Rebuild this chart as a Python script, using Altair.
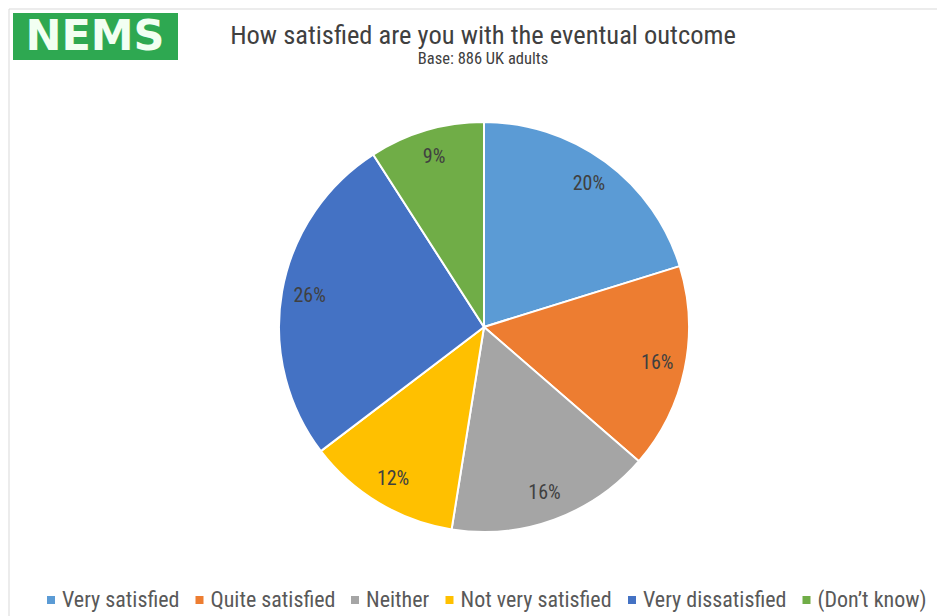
import altair as alt
import pandas as pd

categories = ["Very satisfied", "Quite satisfied", "Neither", "Not very satisfied",
              "Very dissatisfied", "(Don’t know)"]
values = [20, 16, 16, 12, 26, 9]
colors = ["#5B9BD5", "#ED7D31", "#A5A5A5", "#FFC000", "#4472C4", "#70AD47"]
labels = [f"{v}%" for v in values]

title_text = "How satisfied are you with the eventual outcome"
subtitle_text = "Base: 886 UK adults"
logo_text = "NEMS"

FONT = "Liberation Sans Narrow, Roboto Condensed, Liberation Sans, sans-serif"
W, H = 929, 608
CX, CY, R = 476, 319, 205

df = pd.DataFrame({"category": categories, "value": values,
                   "order": list(range(len(values))), "label": labels})

pie = alt.Chart(df).mark_arc(outerRadius=R, stroke="white", strokeWidth=2).encode(
    theta=alt.Theta("value:Q", stack=True),
    order=alt.Order("order:Q"),
    color=alt.Color("category:N", sort=categories,
                    scale=alt.Scale(domain=categories, range=colors),
                    legend=alt.Legend(orient="none", legendX=32, legendY=581,
                                      direction="horizontal", title=None,
                                      symbolType="square", symbolSize=64,
                                      symbolStrokeWidth=0, labelFont=FONT,
                                      labelFontSize=22, labelColor="#595959",
                                      labelOffset=0, columnPadding=8.5)),
    x=alt.value(CX), y=alt.value(CY),
)

txt = alt.Chart(df).mark_text(radius=177, font=FONT, fontSize=20, color="#404040").encode(
    theta=alt.Theta("value:Q", stack=True),
    order=alt.Order("order:Q"),
    text="label:N",
    x=alt.value(CX), y=alt.value(CY),
)

tdf = pd.DataFrame({"t": [title_text], "s": [subtitle_text], "l": [logo_text]})

title = alt.Chart(tdf).mark_text(font=FONT, fontSize=26.5, color="#404040",
                                 align="center", baseline="middle").encode(
    text="t:N", x=alt.value(475), y=alt.value(28))
subtitle = alt.Chart(tdf).mark_text(font=FONT, fontSize=16.5, color="#404040",
                                    align="center", baseline="middle").encode(
    text="s:N", x=alt.value(475), y=alt.value(51))

logo_bg = alt.Chart(tdf).mark_rect(color="#2EA851").encode(
    x=alt.value(5), x2=alt.value(170), y=alt.value(5), y2=alt.value(52))
logo_txt = alt.Chart(tdf).mark_text(font="DejaVu Sans", fontWeight="bold", fontSize=43,
                                    color="#F2FFF2", align="center", baseline="middle").encode(
    text="l:N", x=alt.value(87), y=alt.value(29))

border_top = alt.Chart(tdf).mark_rule(color="#D9D9D9").encode(
    x=alt.value(1), x2=alt.value(W), y=alt.value(1))
border_left = alt.Chart(tdf).mark_rule(color="#D9D9D9").encode(
    x=alt.value(1), y=alt.value(1), y2=alt.value(H))

chart = alt.layer(border_top, border_left, pie, txt, title, subtitle, logo_bg, logo_txt).properties(
    width=W, height=H, autosize=alt.AutoSizeParams(type="none"), padding=0,
    background="white"
).configure_view(stroke=None)

chart.save("out.html", embed_options={"renderer": "svg", "actions": False})
